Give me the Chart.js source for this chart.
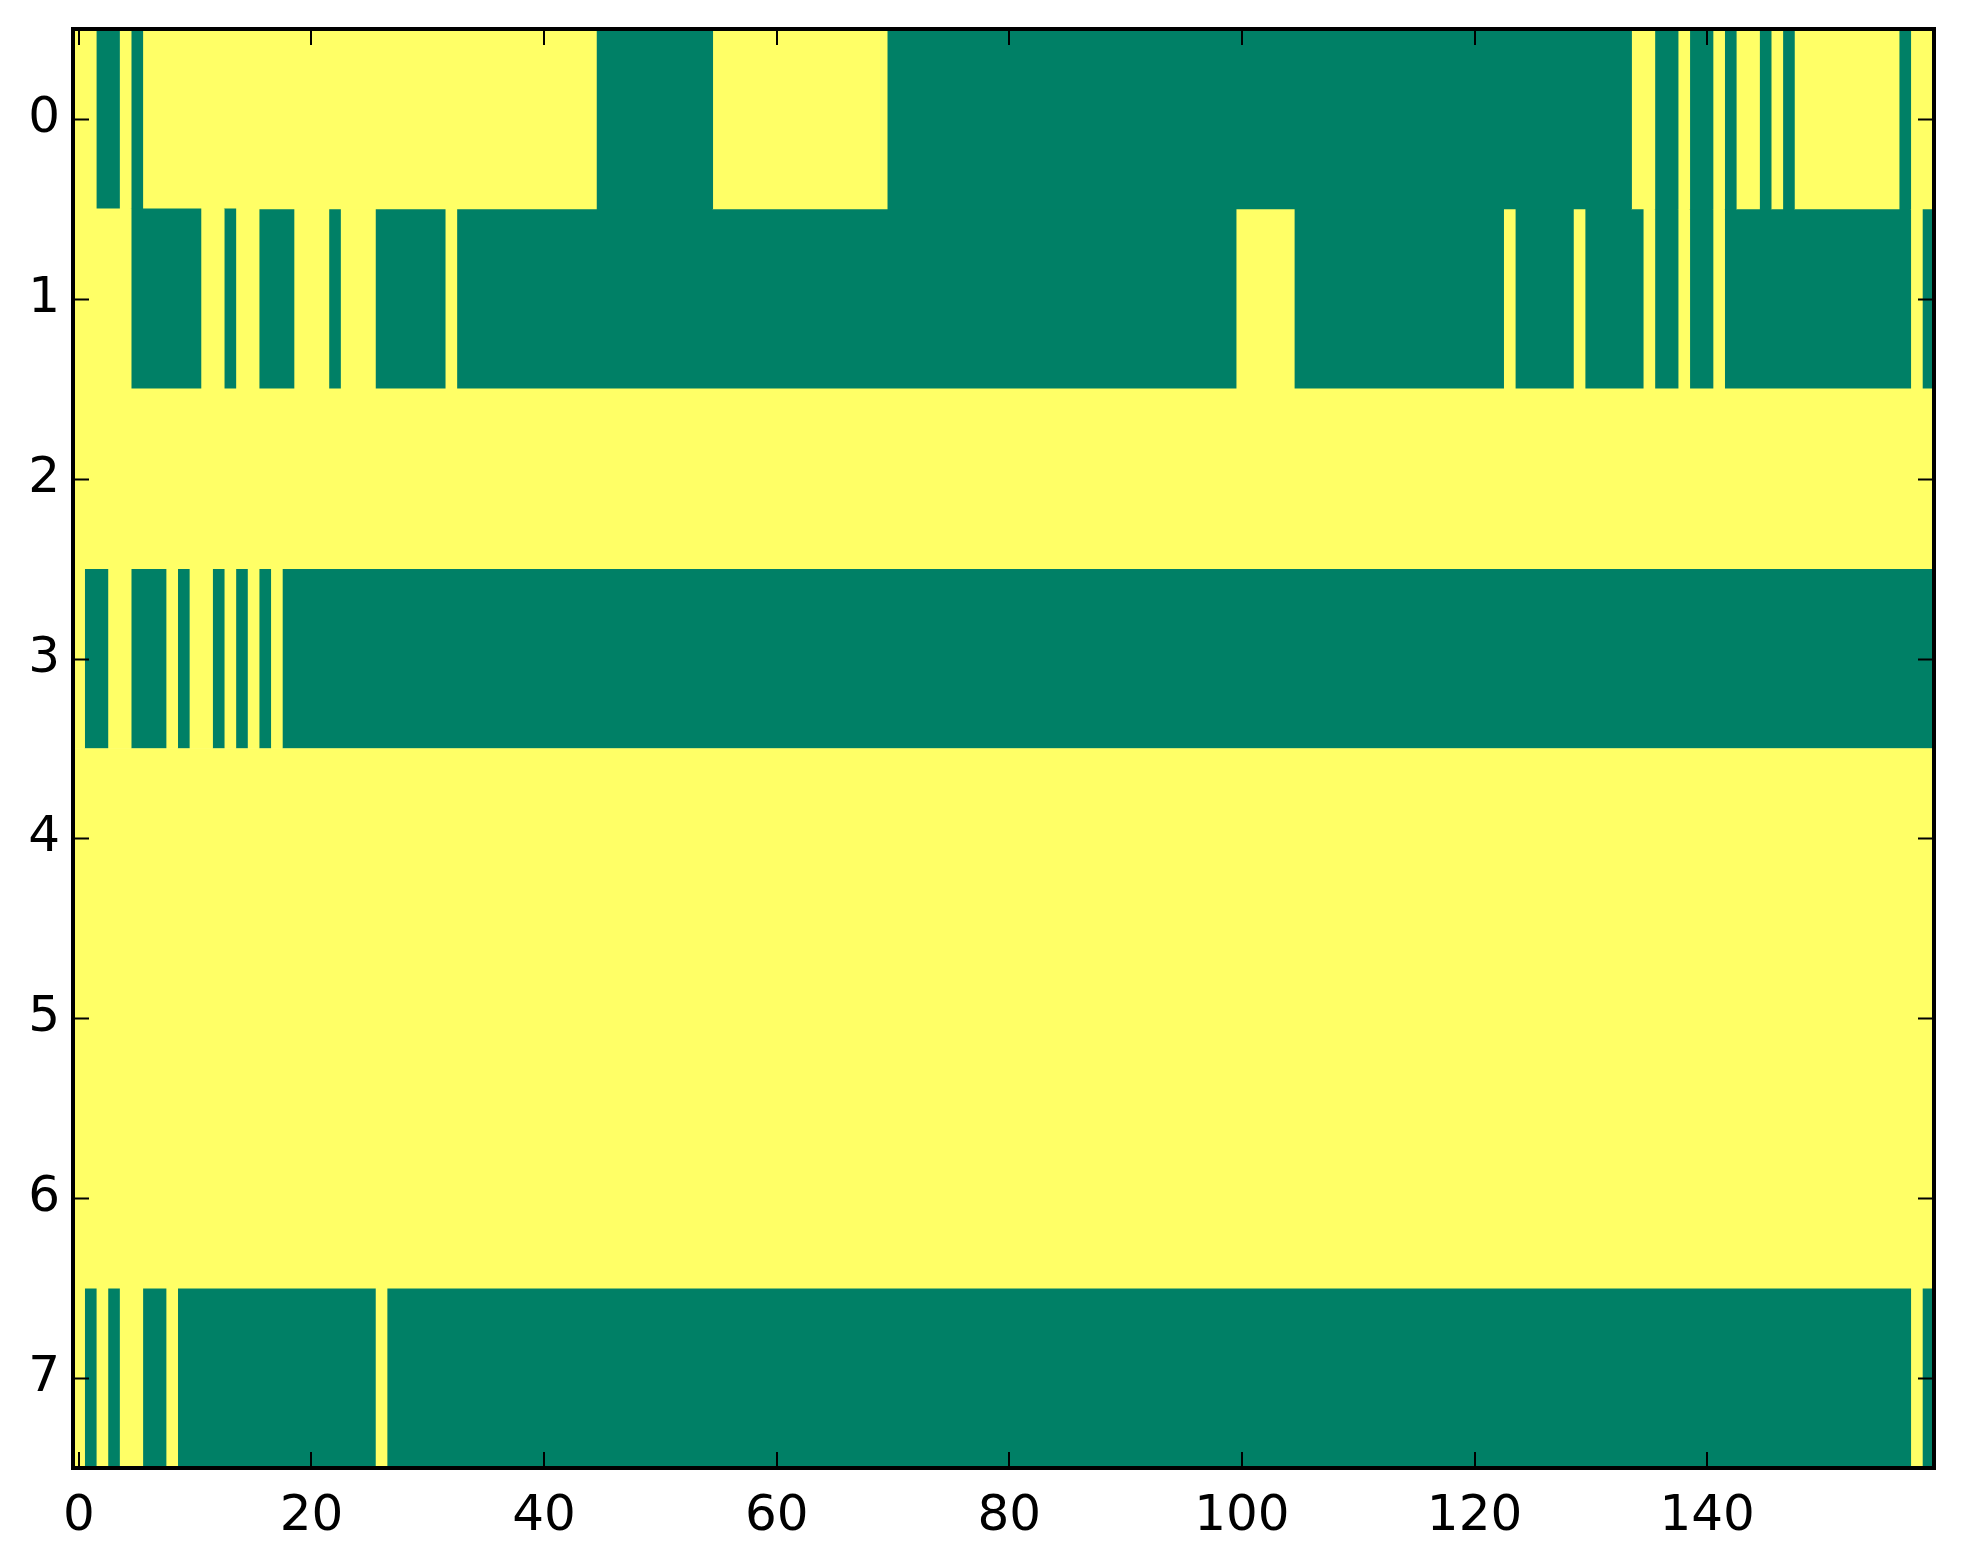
<!DOCTYPE html>
<html>
<head>
<meta charset="utf-8">
<script src="https://cdn.jsdelivr.net/npm/chart.js@4/dist/chart.umd.min.js"></script>
<style>
  html, body { margin: 0; padding: 0; background: #ffffff; }
  #wrap { width: 1963px; height: 1564px; }
</style>
</head>
<body>
<div id="wrap"><canvas id="c" width="1963" height="1564"></canvas></div>
<script>
// Cell values (1 = yellow, 0 = green), 160 columns per row, written in groups of ten.
const row0 = ["1100101111","1111111111","1111111111","1111111111","1111100000","0000011111","1111111111","0000000000",
              "0000000000","0000000000","0000000000","0000000000","0000000000","0000110010","0101101011","1111111011"];
const row1 = ["1111100000","0110110001","1101110000","0010000000","0000000000","0000000000","0000000000","0000000000",
              "0000000000","0000000000","1111100000","0000000000","0001000001","0000010010","0100000000","0000000010"];
const row2 = ["1111111111","1111111111","1111111111","1111111111","1111111111","1111111111","1111111111","1111111111",
              "1111111111","1111111111","1111111111","1111111111","1111111111","1111111111","1111111111","1111111111"];
const row3 = ["1001100010","1101010100","0000000000","0000000000","0000000000","0000000000","0000000000","0000000000",
              "0000000000","0000000000","0000000000","0000000000","0000000000","0000000000","0000000000","0000000000"];
const row4 = ["1111111111","1111111111","1111111111","1111111111","1111111111","1111111111","1111111111","1111111111",
              "1111111111","1111111111","1111111111","1111111111","1111111111","1111111111","1111111111","1111111111"];
const row5 = ["1111111111","1111111111","1111111111","1111111111","1111111111","1111111111","1111111111","1111111111",
              "1111111111","1111111111","1111111111","1111111111","1111111111","1111111111","1111111111","1111111111"];
const row6 = ["1111111111","1111111111","1111111111","1111111111","1111111111","1111111111","1111111111","1111111111",
              "1111111111","1111111111","1111111111","1111111111","1111111111","1111111111","1111111111","1111111111"];
const row7 = ["1010110010","0000000000","0000001000","0000000000","0000000000","0000000000","0000000000","0000000000",
              "0000000000","0000000000","0000000000","0000000000","0000000000","0000000000","0000000000","0000000010"];

const rowLabels = ["0","1","2","3","4","5","6","7"];
const xTickValues = [0, 20, 40, 60, 80, 100, 120, 140];
const colorForValue = { 0: "rgb(0,128,102)", 1: "rgb(255,255,102)" };

// Build the matrix and group each row into runs of equal value.
const rows = [row0, row1, row2, row3, row4, row5, row6, row7].map(r => r.join("").split("").map(Number));
const runsPerRow = rows.map(cells => {
  const runs = [];
  let start = 0;
  for (let i = 1; i <= cells.length; i++) {
    if (i === cells.length || cells[i] !== cells[start]) {
      runs.push({ from: start - 0.5, to: i - 0.5, v: cells[start] });
      start = i;
    }
  }
  return runs;
});
const maxRuns = Math.max(...runsPerRow.map(r => r.length));
const datasets = [];
for (let k = 0; k < maxRuns; k++) {
  datasets.push({
    data: runsPerRow.map(r => r[k] ? [r[k].from, r[k].to] : null),
    backgroundColor: runsPerRow.map(r => r[k] ? colorForValue[r[k].v] : "rgba(0,0,0,0)"),
    borderWidth: 0,
    grouped: false,
    barPercentage: 1,
    categoryPercentage: 1
  });
}

const frameTicks = {
  id: "frameTicks",
  afterDraw(chart) {
    const { ctx, chartArea: a, scales } = chart;
    ctx.save();
    ctx.strokeStyle = "#000";
    ctx.lineWidth = 2;
    const L = 16;
    ctx.beginPath();
    xTickValues.forEach(v => {
      const x = Math.round(scales.x.getPixelForValue(v));
      ctx.moveTo(x, a.bottom); ctx.lineTo(x, a.bottom - L);
      ctx.moveTo(x, a.top); ctx.lineTo(x, a.top + L);
    });
    rowLabels.forEach((lab, i) => {
      const y = Math.round(scales.y.getPixelForValue(i)) + 0.5;
      ctx.moveTo(a.left, y); ctx.lineTo(a.left + L, y);
      ctx.moveTo(a.right, y); ctx.lineTo(a.right - L, y);
    });
    ctx.stroke();
    ctx.lineWidth = 4;
    ctx.strokeRect(a.left, a.top, a.right - a.left, a.bottom - a.top);
    ctx.restore();
  }
};

new Chart(document.getElementById("c"), {
  type: "bar",
  data: { labels: rowLabels, datasets },
  options: {
    indexAxis: "y",
    responsive: false,
    animation: false,
    devicePixelRatio: 1,
    layout: { padding: { top: 29, right: 29, left: 0, bottom: 0 } },
    plugins: { legend: { display: false }, tooltip: { enabled: false } },
    scales: {
      x: {
        type: "linear",
        min: -0.5,
        max: 159.5,
        grid: { display: false },
        border: { display: false },
        afterBuildTicks: s => { s.ticks = xTickValues.map(v => ({ value: v })); },
        afterFit: s => { s.height = 96; s.paddingLeft = 0; s.paddingRight = 0; },
        ticks: {
          autoSkip: false,
          maxRotation: 0,
          padding: 11,
          color: "#000",
          font: { family: "DejaVu Sans", size: 50 },
          callback: v => String(v)
        }
      },
      y: {
        type: "category",
        offset: true,
        grid: { display: false },
        border: { display: false },
        afterFit: s => { s.width = 73; s.paddingTop = 0; s.paddingBottom = 0; },
        ticks: {
          autoSkip: false,
          padding: 5,
          color: "#000",
          font: { family: "DejaVu Sans", size: 50 }
        }
      }
    }
  },
  plugins: [frameTicks]
});
</script>
</body>
</html>
